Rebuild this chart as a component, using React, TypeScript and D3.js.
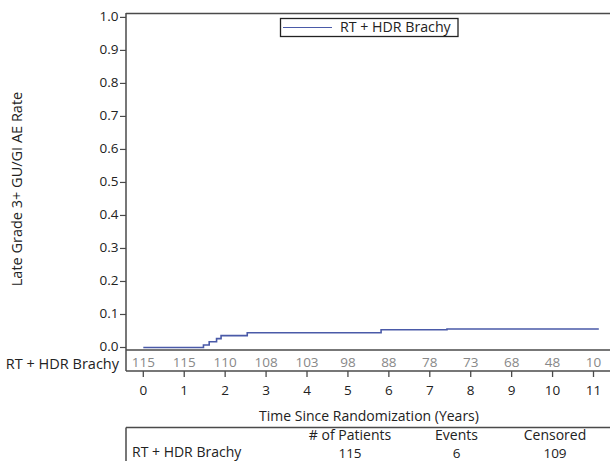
import React from "react";
import * as d3 from "d3";

const stepTimes = [0, 1.47, 1.61, 1.79, 1.9, 2.54, 5.81, 7.42, 11.13];
const stepRates = [0, 0.0076, 0.0175, 0.027, 0.036, 0.0448, 0.0538, 0.056, 0.056];
const yTicks = [0, 0.1, 0.2, 0.3, 0.4, 0.5, 0.6, 0.7, 0.8, 0.9, 1.0];
const xTicks = [0, 1, 2, 3, 4, 5, 6, 7, 8, 9, 10, 11];
const atRisk = [115, 115, 110, 108, 103, 98, 88, 78, 73, 68, 48, 10];
const seriesName = "RT + HDR Brachy";
const tableHeaders = ["# of Patients", "Events", "Censored"];
const tableValues = ["115", "6", "109"];

const W = 610;
const H = 461;
const FONT = "'Open Sans', 'DejaVu Sans', sans-serif";
const AXIS = "#4a4a4a";
const CURVE = "#4a5aa8";

export default function App() {
  const x = d3.scaleLinear().domain([0, 11]).range([143.3, 593.5]);
  const y = d3.scaleLinear().domain([0, 1]).range([347.5, 17.4]);
  const axX = 126;
  const riskTop = 350;
  const riskBot = 371;
  const tableTop = 427.5;

  const line = d3
    .line<number>()
    .x((_, i) => x(stepTimes[i]))
    .y((d) => y(d))
    .curve(d3.curveStepAfter);

  const tableCols = [350, 456.5, 555];

  return (
    <svg
      width={W}
      height={H}
      style={{ position: "absolute", left: 0, top: 0, background: "#fff" }}
      fontFamily={FONT}
    >
      {/* top border */}
      <line x1={axX} x2={W} y1={13.5} y2={13.5} stroke={AXIS} strokeWidth={1.5} />
      {/* y axis */}
      <line x1={axX} x2={axX} y1={13} y2={riskBot} stroke={AXIS} strokeWidth={1.5} />
      {yTicks.map((t) => (
        <g key={t}>
          <line x1={axX - 6} x2={axX} y1={y(t)} y2={y(t)} stroke={AXIS} strokeWidth={1.2} />
          <text x={axX - 7.5} y={y(t) - 1} dy="0.35em" textAnchor="end" fontSize={13.5} fill="#222">
            {t.toFixed(1)}
          </text>
        </g>
      ))}
      <text
        transform={`translate(17,189) rotate(-90)`}
        textAnchor="middle"
        dy="0.35em"
        fontSize={14.5}
        fill="#222"
      >
        Late Grade 3+ GU/GI AE Rate
      </text>

      {/* legend */}
      <rect x={280.5} y={18.5} width={177.5} height={18} fill="#fff" stroke="#222" strokeWidth={1.3} />
      <line x1={283} x2={332} y1={27.5} y2={27.5} stroke={CURVE} strokeWidth={1.2} />
      <text x={340} y={27.5} dy="0.35em" fontSize={14.2} fill="#222">
        {seriesName}
      </text>

      {/* curve */}
      <path d={line(stepRates) || ""} fill="none" stroke={CURVE} strokeWidth={1.6} />

      {/* at risk box */}
      <line x1={axX} x2={W} y1={riskTop} y2={riskTop} stroke={AXIS} strokeWidth={1.5} />
      <line x1={axX} x2={W} y1={riskBot} y2={riskBot} stroke={AXIS} strokeWidth={1.5} />
      <text x={119} y={363.5} dy="0.35em" textAnchor="end" fontSize={14.5} fill="#222">
        {seriesName}
      </text>
      {xTicks.map((t, i) => (
        <g key={t}>
          <text x={x(t)} y={362.5} dy="0.35em" textAnchor="middle" fontSize={13.5} fill="#888">
            {atRisk[i]}
          </text>
          <line x1={x(t)} x2={x(t)} y1={riskBot} y2={riskBot + 6} stroke={AXIS} strokeWidth={1.3} />
          <text x={x(t)} y={390} dy="0.35em" textAnchor="middle" fontSize={13.5} fill="#222">
            {t}
          </text>
        </g>
      ))}
      <text x={369} y={416.5} dy="0.35em" textAnchor="middle" fontSize={14} fill="#222">
        Time Since Randomization (Years)
      </text>

      {/* summary table */}
      <line x1={axX} x2={W} y1={tableTop} y2={tableTop} stroke={AXIS} strokeWidth={1.5} />
      <line x1={axX} x2={axX} y1={tableTop} y2={H} stroke={AXIS} strokeWidth={1.5} />
      {tableHeaders.map((h, i) => (
        <text key={h} x={tableCols[i]} y={435.5} dy="0.35em" textAnchor="middle" fontSize={14} fill="#222">
          {h}
        </text>
      ))}
      <text x={132} y={452} dy="0.35em" fontSize={14} fill="#222">
        {seriesName}
      </text>
      {tableValues.map((v, i) => (
        <text key={i} x={tableCols[i]} y={453.5} dy="0.35em" textAnchor="middle" fontSize={13.5} fill="#222">
          {v}
        </text>
      ))}
    </svg>
  );
}
